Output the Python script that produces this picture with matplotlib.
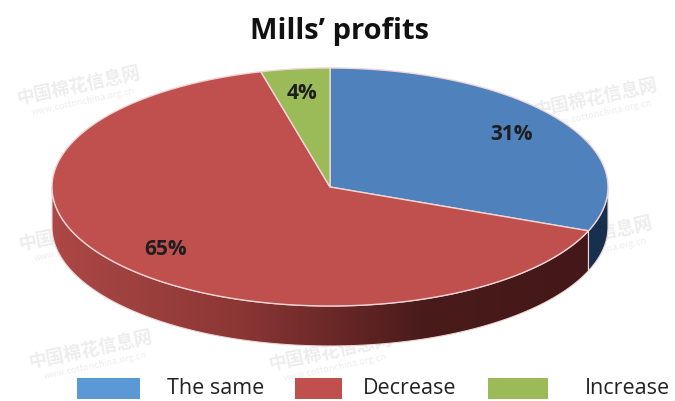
import numpy as np
import matplotlib.pyplot as plt
from matplotlib.patches import Polygon, Rectangle
from matplotlib.colors import LinearSegmentedColormap

plt.rcParams['font.family'] = ['Open Sans', 'DejaVu Sans']

title = "Mills\u2019 profits"
categories = ["The same", "Decrease", "Increase"]
shares = [31, 65, 4]

top_colors = ["#4f81bd", "#c0504d", "#9bbb59"]
legend_colors = ["#5b98d6", "#c0504d", "#9bbb59"]
side_cmaps = [
    LinearSegmentedColormap.from_list("blue_side", ["#2a4a70", "#1f3a5a", "#16304d"]),
    LinearSegmentedColormap.from_list("red_side", ["#ac4846", "#8c3735", "#4a1b1b", "#431818"]),
    LinearSegmentedColormap.from_list("green_side", ["#7a9a40", "#5c7a2e"]),
]

# ellipse geometry in pixel space
cx, cy = 330, 187
rx, ry = 278, 119
depth = 40
edge = "#eed6d6"


def pt(theta, r=1.0, dz=0.0):
    t = np.radians(theta)
    return cx + rx * r * np.cos(t), cy - ry * r * np.sin(t) + dz


def arc(t_from, t_to, dz=0.0, n=200):
    ts = np.linspace(t_from, t_to, n)
    xs, ys = pt(ts, 1.0, dz)
    return np.column_stack([xs, ys])


fig = plt.figure(figsize=(6.75, 4.01), dpi=100)
ax = fig.add_axes([0, 0, 1, 1])

# faint site watermarks
wm_cn = "中国棉花信息网"
wm_en = "www.cottonchina.org.cn"
wm_kw = dict(color="#ededed", zorder=0, rotation=12, ha="center", va="center",
             family=["Noto Sans CJK SC", "DejaVu Sans"])
for x, y in [(78, 86), (595, 98), (80, 232), (90, 350), (330, 352), (590, 236)]:
    ax.text(x, y, wm_cn, fontsize=13, fontweight="bold", **wm_kw)
    ax.text(x + 5, y + 16, wm_en, fontsize=6.5, **wm_kw)

# slice angles, clockwise from 12 o'clock
fracs = np.array(shares) / sum(shares)
starts = 90 - 360 * np.concatenate([[0], np.cumsum(fracs)[:-1]])
ends = starts - 360 * fracs

# side walls (front half only: angles in [-180, 0])
for i in range(len(shares)):
    lo, hi = max(ends[i], -180), min(starts[i], 0)
    if lo >= hi:
        continue
    top = arc(hi, lo)
    bot = arc(lo, hi, dz=depth)
    wall = Polygon(np.vstack([top, bot]), closed=True, facecolor="none",
                   edgecolor="none", zorder=2)
    ax.add_patch(wall)
    grad = np.linspace(0, 1, 256).reshape(1, -1)
    im = ax.imshow(grad, cmap=side_cmaps[i], aspect="auto", zorder=2,
                   extent=[cx - rx, cx + rx, cy + ry + depth, cy - ry])
    im.set_clip_path(wall)
    ax.add_patch(Polygon(np.vstack([top, bot]), closed=True, facecolor="none",
                         edgecolor=edge, linewidth=0.8, zorder=3))

# top faces
for i in range(len(shares)):
    poly = np.vstack([[cx, cy], arc(starts[i], ends[i])])
    ax.add_patch(Polygon(poly, closed=True, facecolor=top_colors[i],
                         edgecolor=edge, linewidth=1.0, zorder=4))

# percentage labels
for i, v in enumerate(shares):
    mid = (starts[i] + ends[i]) / 2
    x, y = pt(mid, 0.79)
    ax.text(x, y, f"{v}%", fontsize=15, fontweight="bold", color="#1e1e1e",
            ha="center", va="center", zorder=5)

ax.text(340, 31, title, fontsize=21, fontweight="bold", color="#111111",
        ha="center", va="center")

# legend row
legend_boxes = [(77, 63), (295, 47), (488, 60)]
legend_text_x = [167, 363, 585]
for (x0, w), tx, col, lab in zip(legend_boxes, legend_text_x, legend_colors, categories):
    ax.add_patch(Rectangle((x0, 378), w, 21, facecolor=col, edgecolor="none"))
    ax.text(tx, 389, lab, fontsize=15.5, color="#222222", ha="left", va="center")

ax.set_xlim(0, 675)
ax.set_ylim(401, 0)
ax.axis("off")
fig.savefig("out.png", dpi=100)
